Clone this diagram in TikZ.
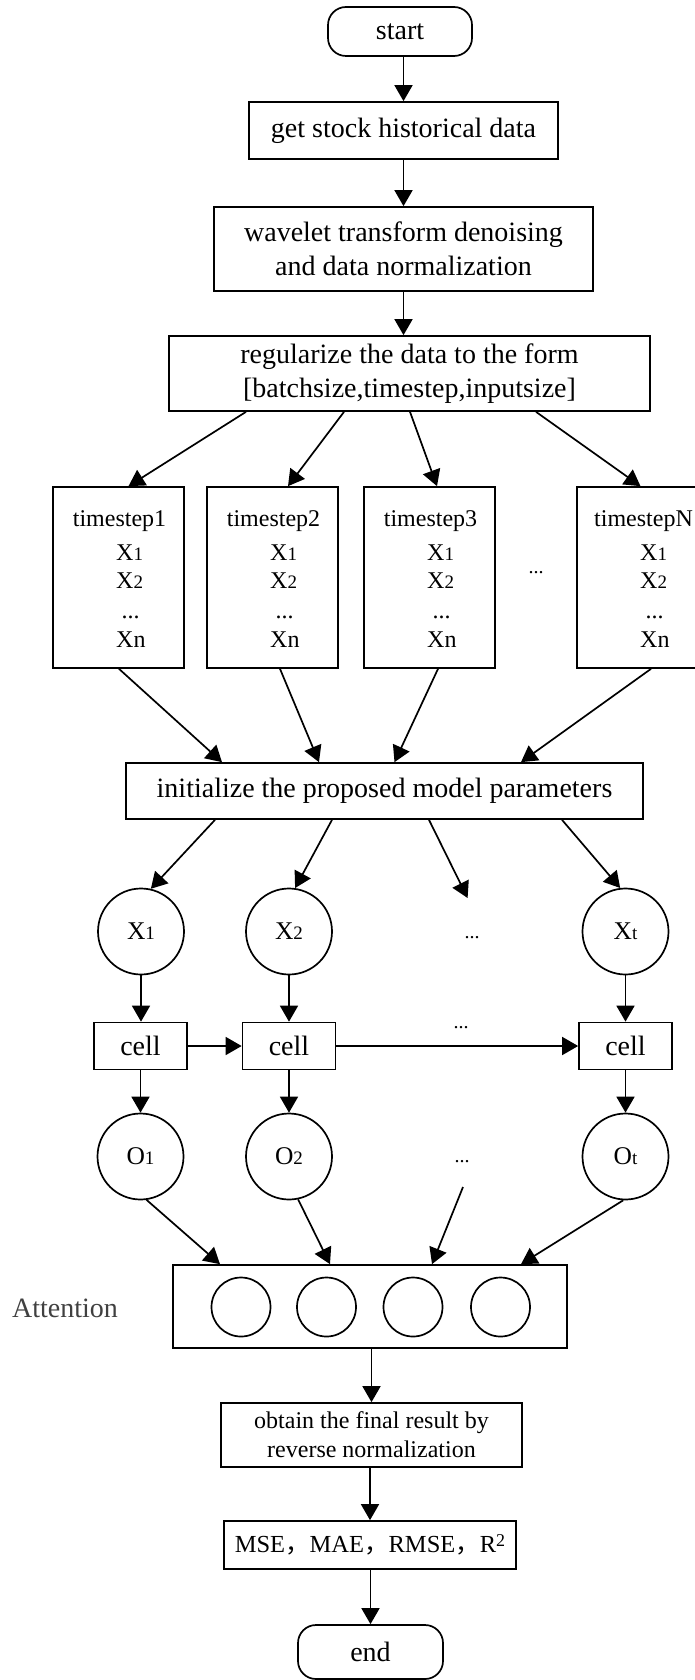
\documentclass[tikz,border=0pt]{standalone}
\usepackage{fontspec}
\setmainfont{Liberation Serif}
\newfontfamily\cjkfont{Noto Sans CJK SC}
\usetikzlibrary{arrows.meta,calc}
\newcommand{\myBig}{\fontsize{28}{33.5}\selectfont}
\newcommand{\myMid}{\fontsize{24}{29}\selectfont}
\newcommand{\myCirc}{\fontsize{25.5}{30}\selectfont}
\newcommand{\mySub}[1]{{\fontsize{19}{19}\selectfont #1}}
\begin{document}
\begin{tikzpicture}[x=1pt,y=-1pt,
  lw/.style={line width=1.7pt},
  box/.style={draw,lw,inner sep=0pt,align=center,font=\myBig},
  term/.style={box,rounded corners=18pt},
  tsbox/.style={draw,lw,inner sep=0pt,minimum width=131pt,minimum height=181pt},
  circ/.style={draw,lw,circle,inner sep=0pt,minimum size=86pt,font=\myCirc},
  smallcirc/.style={draw,lw,circle,inner sep=0pt,minimum size=59pt},
  arr/.style={lw,-{Triangle[length=16pt,width=18pt]}},
  tstext/.style={font=\myMid,inner sep=0pt,anchor=base},
  xtext/.style={font=\myMid,inner sep=0pt,anchor=base west},
  dots/.style={inner sep=0pt,font=\fontsize{20}{20}\selectfont}
]
\useasboundingbox (0,0) rectangle (695,1680);

% top chain
\node[term,minimum width=144pt,minimum height=49pt] (start) at (400,31.5) {start};
\node[box,minimum width=309pt,minimum height=57pt] (b1) at (403.5,130.5) {get stock historical data};
\node[box,minimum width=379pt,minimum height=84pt] (b2) at (403.5,249) {wavelet transform denoising\\and data normalization};
\node[box,minimum width=481pt,minimum height=75pt] (b3) at (409.5,373.5) {regularize the data to the form\\{[}batchsize,timestep,inputsize{]}};

\draw[arr] (start.south -| b1.north) -- (b1.north);
\draw[arr] (b1.south) -- (b1.south |- b2.north);
\draw[arr] (b2.south) -- (b2.south |- b3.north);

% timestep boxes
\foreach \i/\cx/\lab in {1/118.5/timestep1, 2/272.5/timestep2, 3/429.5/timestep3, N/642.5/timestepN}{
  \node[tsbox] (t\i) at (\cx,577.5) {};
  \node[tstext] (t\i a) at (\cx+1,526) {\lab};
  \node[xtext] (t\i b) at (\cx-2.5,560) {X\mySub{1}};
  \node[xtext] (t\i c) at (\cx-2.5,588) {X\mySub{2}};
  \node[xtext] (t\i d) at (\cx+3,618) {...};
  \node[xtext] (t\i e) at (\cx-2.5,647) {Xn};
}
\node[dots] (tdots) at (536,573) {...};

\draw[arr] ([xshift=-163.5pt]b3.south) -- ([xshift=10pt]t1.north);
\draw[arr] ([xshift=-65.5pt]b3.south) -- ([xshift=15.5pt]t2.north);
\draw[arr] ([xshift=0.5pt]b3.south) -- ([xshift=7.5pt]t3.north);
\draw[arr] ([xshift=126.5pt]b3.south) -- ([xshift=-2pt]tN.north);

% initialize
\node[box,minimum width=517pt,minimum height=56pt] (init) at (384.5,791) {initialize the proposed model parameters};

\draw[arr] ([xshift=0.5pt]t1.south) -- ([xshift=-162.5pt]init.north);
\draw[arr] ([xshift=7.5pt]t2.south) -- ([xshift=-65.5pt]init.north);
\draw[arr] ([xshift=8.5pt]t3.south) -- ([xshift=10pt]init.north);
\draw[arr] ([xshift=8.5pt]tN.south) -- ([xshift=136.5pt]init.north);

% X circles
\node[circ] (x1) at (141,931.5) {X\mySub{1}};
\node[circ] (x2) at (289,931.5) {X\mySub{2}};
\node[circ] (xt) at (625.5,931.5) {X\mySub{t}};
\node[dots] (xdots) at (472,938) {...};
\coordinate (xd) at (467.6,898);

\draw[arr] ([xshift=-169.5pt]init.south) -- (x1.77);
\draw[arr] ([xshift=-52.5pt]init.south) -- (x2.82);
\draw[arr] ([xshift=44.5pt]init.south) -- (xd);
\draw[arr] ([xshift=177.5pt]init.south) -- (xt.97);

% cells
\node[box,minimum width=93pt,minimum height=47pt] (c1) at (140.5,1046) {cell};
\node[box,minimum width=93pt,minimum height=47pt] (c2) at (289,1046) {cell};
\node[box,minimum width=93pt,minimum height=47pt] (c3) at (625.5,1046) {cell};
\node[dots] (cdots) at (461,1028) {...};

\draw[arr] (x1.south) -- (x1.south |- c1.north);
\draw[arr] (x2.south) -- (x2.south |- c2.north);
\draw[arr] (xt.south) -- (xt.south |- c3.north);
\draw[arr] (c1) -- (c2);
\draw[arr] (c2) -- (c3);

% O circles
\node[circ] (o1) at (140.5,1156.5) {O\mySub{1}};
\node[circ] (o2) at (289,1156.5) {O\mySub{2}};
\node[circ] (ot) at (625.5,1156.5) {O\mySub{t}};
\node[dots] (odots) at (462,1162) {...};
\coordinate (od) at (463,1187);

\draw[arr] (c1.south) -- (c1.south |- o1.north);
\draw[arr] (c2.south) -- (c2.south |- o2.north);
\draw[arr] (c3.south) -- (c3.south |- ot.north);

% attention
\node[box,minimum width=394pt,minimum height=83pt] (att) at (370,1306.5) {};
\node[smallcirc] (a1) at (241,1307) {};
\node[smallcirc] (a2) at (326.5,1307) {};
\node[smallcirc] (a3) at (413,1307) {};
\node[smallcirc] (a4) at (500.5,1307) {};
\node[inner sep=0pt,font=\myBig,text=black!75] (attlab) at (65,1308) {Attention};

\draw[arr] (o1.-82) -- ([xshift=-150pt]att.north);
\draw[arr] (o2.-78) -- ([xshift=-40pt]att.north);
\draw[arr] (od) -- ([xshift=62pt]att.north);
\draw[arr] (ot.-93) -- ([xshift=151pt]att.north);

% bottom chain
\node[box,font=\myMid,minimum width=301pt,minimum height=64pt] (obt) at (371.5,1435) {obtain the final result by\\reverse normalization};
\node[box,font=\fontsize{24.5}{29}\selectfont,minimum width=292pt,minimum height=48pt] (mse) at (370,1545) {MSE{\cjkfont ，}MAE{\cjkfont ，}RMSE{\cjkfont ，}R\raisebox{0.5ex}{\fontsize{18}{18}\selectfont 2}};
\node[term,minimum width=145pt,minimum height=54pt] (endn) at (370.5,1652) {end};

\draw[arr] (att.south -| obt.north) -- (obt.north);
\draw[arr] (obt.south -| mse.north) -- (mse.north);
\draw[arr] (mse.south -| endn.north) -- (endn.north);
\end{tikzpicture}
\end{document}
